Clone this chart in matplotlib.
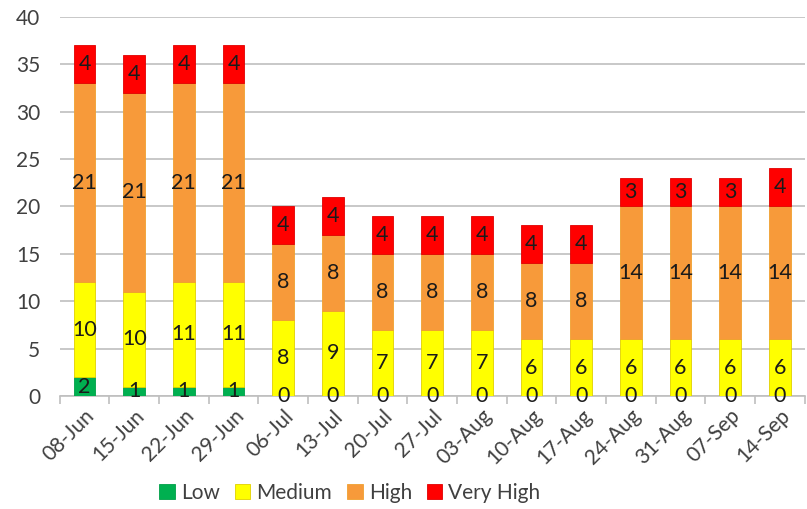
import matplotlib
matplotlib.use("Agg")
import matplotlib.pyplot as plt
import numpy as np

categories = ["08-Jun", "15-Jun", "22-Jun", "29-Jun", "06-Jul", "13-Jul", "20-Jul", "27-Jul",
              "03-Aug", "10-Aug", "17-Aug", "24-Aug", "31-Aug", "07-Sep", "14-Sep"]
low = [2, 1, 1, 1, 0, 0, 0, 0, 0, 0, 0, 0, 0, 0, 0]
medium = [10, 10, 11, 11, 8, 9, 7, 7, 7, 6, 6, 6, 6, 6, 6]
high = [21, 21, 21, 21, 8, 8, 8, 8, 8, 8, 8, 14, 14, 14, 14]
very_high = [4, 4, 4, 4, 4, 4, 4, 4, 4, 4, 4, 3, 3, 3, 4]

series_names = ["Low", "Medium", "High", "Very High"]
colors = ["#00b050", "#ffff00", "#f79a3a", "#ff0000"]
edges = ["#00a048", "#e0d000", "#f0a030", "#e00000"]

plt.rcParams['font.family'] = ['Lato', 'DejaVu Sans']

fig = plt.figure(figsize=(8.07, 5.09), dpi=100)
ax = fig.add_axes([0.074, 0.222, 0.923, 0.745])

x = np.arange(len(categories))
bottom = np.zeros(len(categories))
for name, vals, c, ec in zip(series_names, [low, medium, high, very_high], colors, edges):
    vals = np.array(vals, dtype=float)
    ax.bar(x, vals, width=0.44, bottom=bottom, color=c, edgecolor=ec,
           linewidth=0.6, label=name, zorder=3)
    for xi, b, v in zip(x, bottom, vals):
        ax.text(xi, b + v / 2, f"{int(v)}", ha='center', va='center',
                fontsize=15.5, color='#1a1a1a', zorder=4)
    bottom += vals

ax.set_xlim(-0.5, len(categories) - 0.5)
ax.set_ylim(0, 40)
ax.set_yticks(range(0, 41, 5))
ax.yaxis.grid(True, color='#bfbfbf', linewidth=1.2, zorder=0)
ax.set_axisbelow(True)
for s in ['top', 'right', 'left']:
    ax.spines[s].set_visible(False)
ax.spines['bottom'].set_color('#bfbfbf')
ax.spines['bottom'].set_linewidth(1.2)

ax.set_xticks(x)
ax.set_xticklabels(categories, rotation=45, ha='right', rotation_mode='anchor',
                   fontsize=15, color='#404040')
ax.tick_params(axis='x', length=0, pad=7)
ax.set_xticks(np.arange(-0.5, len(categories), 1), minor=True)
ax.tick_params(axis='x', which='minor', length=6, color='#bfbfbf', width=1.2)
ax.tick_params(axis='y', length=0, labelsize=15, labelcolor='#404040', pad=14)

handles, labels = ax.get_legend_handles_labels()
fig.legend(handles, labels, loc='center', bbox_to_anchor=(350 / 807, 1 - 493 / 509),
           ncol=4, frameon=False, fontsize=15, handlelength=0.75, handleheight=0.75,
           handletextpad=0.3, columnspacing=0.7, labelcolor='#404040')

fig.savefig("out.png", dpi=100)
